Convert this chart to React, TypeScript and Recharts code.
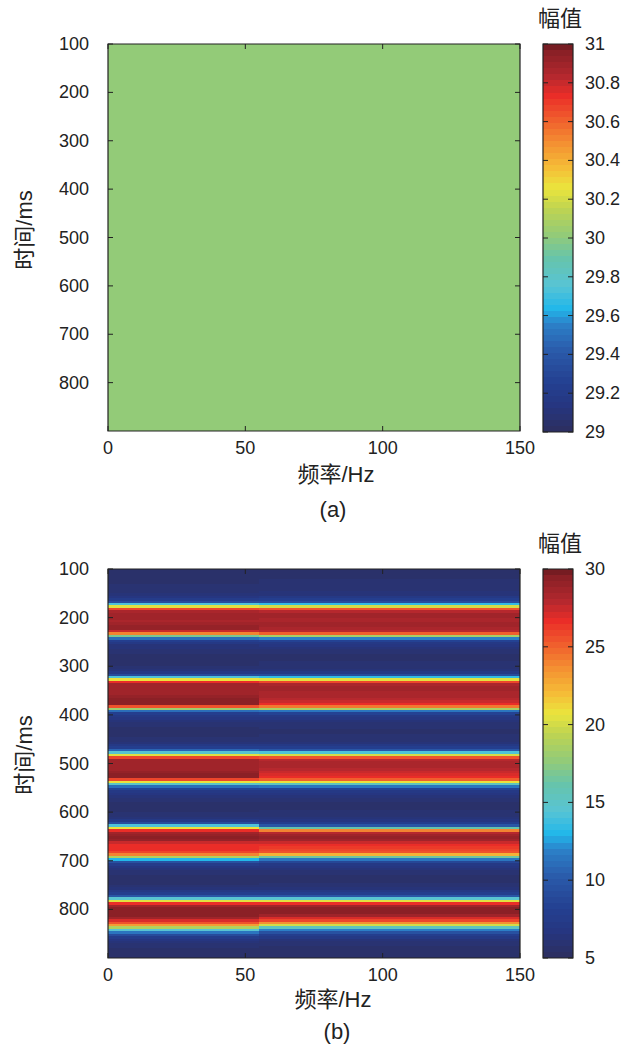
import React from 'react';
import { ComposedChart, XAxis, YAxis, ReferenceArea, Scatter } from 'recharts';

// ---------- shared text style ----------
const FONT = '"Liberation Sans", Arial, "Noto Sans CJK SC", sans-serif';
const INK = '#222';
const TICK_LEN = 5;

// ---------- axes ----------
const freqDomain: [number, number] = [0, 150];
const freqTicks = [0, 50, 100, 150];
const timeDomain: [number, number] = [100, 900];
const timeTicks = [100, 200, 300, 400, 500, 600, 700, 800];

// ---------- panel (a): constant amplitude ----------
const amplitudeA = 30;
const colorRangeA: [number, number] = [29, 31];
const colorTicksA = [29, 29.2, 29.4, 29.6, 29.8, 30, 30.2, 30.4, 30.6, 30.8, 31];

// ---------- panel (b): amplitude per 5 ms row, two frequency segments ----------
const colorRangeB: [number, number] = [5, 30];
const colorTicksB = [5, 10, 15, 20, 25, 30];
const splitFreq = 55;
const rowStart = 100;
const rowStep = 5;

// 0–55 Hz, rows 100 ms … 895 ms
const amplitudeBLow = [
  5.5, 5.5, 5.5, 5.6, 5.6, 5.7, 5.8, 5.8, 6.0, 6.1,
  6.4, 6.9, 7.6, 9.0, 14.0, 20.5, 26.0, 28.3, 28.6, 28.6,
  28.5, 28.4, 28.6, 28.9, 29.2, 27.5, 24.0, 17.0, 11.0, 8.0,
  7.0, 6.5, 6.2, 6.0, 5.8, 5.7, 5.6, 5.6, 5.6, 5.7,
  5.8, 6.2, 7.0, 9.0, 14.0, 21.0, 26.5, 28.5, 28.6, 28.6,
  28.7, 28.8, 29.0, 29.3, 29.6, 29.4, 25.5, 18.0, 11.0, 8.0,
  7.2, 6.7, 6.3, 6.0, 5.8, 5.7, 5.6, 5.6, 5.7, 5.8,
  6.0, 6.4, 7.0, 8.0, 10.5, 14.5, 20.5, 26.0, 28.5, 28.7,
  28.6, 28.6, 28.8, 29.2, 29.5, 29.4, 26.0, 21.0, 15.0, 11.0,
  8.5, 7.2, 6.6, 6.2, 6.0, 5.8, 5.7, 5.6, 5.6, 5.7,
  5.8, 6.0, 6.4, 7.0, 9.0, 14.0, 21.0, 26.5, 28.5, 29.2,
  29.3, 29.0, 27.5, 26.5, 26.5, 26.5, 26.0, 24.0, 19.0, 13.0,
  9.5, 7.5, 6.8, 6.3, 6.0, 5.8, 5.7, 5.6, 5.6, 5.7,
  5.9, 6.3, 7.0, 8.0, 10.0, 14.5, 20.5, 26.5, 28.5, 29.5,
  29.6, 29.6, 29.3, 28.5, 27.0, 25.5, 23.0, 19.0, 14.5, 11.5,
  9.0, 7.5, 6.8, 6.3, 6.0, 5.8, 5.7, 5.6, 5.5, 5.5,
];

// 55–150 Hz, rows 100 ms … 895 ms
const amplitudeBHigh = [
  5.5, 5.5, 5.6, 5.6, 5.8, 5.8, 5.9, 6.0, 6.1, 6.2,
  6.5, 7.0, 7.8, 9.0, 13.5, 20.0, 25.5, 28.0, 28.5, 28.5,
  28.4, 28.4, 28.5, 28.5, 28.3, 27.8, 25.0, 18.5, 12.0, 8.5,
  7.2, 6.6, 6.2, 6.0, 5.8, 5.7, 5.7, 5.7, 5.8, 5.8,
  5.9, 6.3, 7.0, 9.0, 13.5, 20.5, 26.0, 28.2, 28.5, 28.5,
  28.4, 28.3, 28.2, 28.0, 27.5, 26.5, 24.5, 18.5, 11.5, 8.3,
  7.3, 6.8, 6.4, 6.1, 5.9, 5.8, 5.7, 5.7, 5.8, 5.9,
  6.1, 6.5, 7.0, 8.0, 10.0, 14.0, 20.0, 25.5, 28.0, 28.4,
  28.4, 28.3, 28.0, 27.5, 27.0, 26.5, 25.0, 21.0, 15.5, 11.5,
  8.5, 7.2, 6.6, 6.2, 6.0, 5.8, 5.7, 5.7, 5.7, 5.8,
  5.8, 6.0, 6.3, 6.8, 7.8, 10.0, 16.0, 24.0, 28.0, 28.8,
  29.0, 28.6, 27.6, 26.6, 26.2, 26.0, 25.5, 22.5, 16.5, 11.5,
  8.8, 7.2, 6.6, 6.2, 6.0, 5.8, 5.7, 5.7, 5.7, 5.8,
  6.0, 6.3, 7.0, 8.0, 10.0, 14.5, 20.5, 26.5, 28.5, 29.3,
  29.5, 29.3, 28.6, 27.2, 25.8, 23.5, 20.0, 15.5, 12.0, 9.5,
  8.0, 7.0, 6.5, 6.1, 5.9, 5.7, 5.6, 5.6, 5.5, 5.5,
];

// ---------- colormap (jet-like, 64 levels) ----------
type RGB = [number, number, number];
const COLOR_STOPS: [number, RGB][] = [
  [0.0, [44, 47, 98]],
  [0.06, [38, 54, 128]],
  [0.12, [36, 64, 145]],
  [0.2, [42, 90, 170]],
  [0.27, [44, 128, 200]],
  [0.31, [33, 183, 234]],
  [0.37, [88, 196, 212]],
  [0.44, [103, 196, 170]],
  [0.5, [147, 203, 120]],
  [0.57, [192, 212, 80]],
  [0.62, [234, 229, 61]],
  [0.67, [245, 190, 55]],
  [0.73, [244, 148, 50]],
  [0.8, [240, 92, 45]],
  [0.86, [234, 45, 40]],
  [0.91, [178, 40, 46]],
  [1.0, [118, 28, 34]],
];
const LEVELS = 64;

function colorAt(t: number): string {
  const u = Math.min(1, Math.max(0, t));
  for (let i = 1; i < COLOR_STOPS.length; i++) {
    const [t1, c1] = COLOR_STOPS[i];
    if (u <= t1) {
      const [t0, c0] = COLOR_STOPS[i - 1];
      const k = (u - t0) / (t1 - t0);
      const c = c0.map((v, j) => Math.round(v + (c1[j] - v) * k));
      return `rgb(${c[0]},${c[1]},${c[2]})`;
    }
  }
  const last = COLOR_STOPS[COLOR_STOPS.length - 1][1];
  return `rgb(${last[0]},${last[1]},${last[2]})`;
}

function levelOf(v: number, [lo, hi]: [number, number]) {
  const t = (v - lo) / (hi - lo);
  return Math.min(LEVELS - 1, Math.max(0, Math.floor(t * LEVELS)));
}
function levelColor(k: number) {
  return colorAt(k === LEVELS - 1 ? 1 : k / LEVELS);
}
function valueColor(v: number, range: [number, number]) {
  return levelColor(levelOf(v, range));
}

// ---------- cell tables ----------
type Cell = { f0: number; f1: number; t0: number; t1: number; v: number };

const cellsA: Cell[] = [
  { f0: freqDomain[0], f1: freqDomain[1], t0: timeDomain[0], t1: timeDomain[1], v: amplitudeA },
];

const cellsB: Cell[] = amplitudeBLow.flatMap((v, i) => {
  const t0 = rowStart + i * rowStep;
  const t1 = t0 + rowStep;
  return [
    { f0: freqDomain[0], f1: splitFreq, t0, t1, v },
    { f0: splitFreq, f1: freqDomain[1], t0, t1, v: amplitudeBHigh[i] },
  ];
});

// ---------- tick renderers (ticks point into the box) ----------
const tickText = {
  fontFamily: FONT,
  fontSize: 18,
  fill: INK,
};

const BottomTick = (p: any) => (
  <g>
    <line x1={p.x} x2={p.x} y1={p.y} y2={p.y - TICK_LEN} stroke={INK} strokeWidth={1} />
    <text x={p.x} y={p.y + 17} textAnchor="middle" dominantBaseline="central" {...tickText}>
      {p.payload.value}
    </text>
  </g>
);
const TopTick = (p: any) => (
  <line x1={p.x} x2={p.x} y1={p.y} y2={p.y + TICK_LEN} stroke={INK} strokeWidth={1} />
);
const LeftTick = (p: any) => (
  <g>
    <line x1={p.x} x2={p.x + TICK_LEN} y1={p.y} y2={p.y} stroke={INK} strokeWidth={1} />
    <text x={p.x - 19} y={p.y} textAnchor="end" dominantBaseline="central" {...tickText}>
      {p.payload.value}
    </text>
  </g>
);
const LeftTickBare = (p: any) => (
  <line x1={p.x} x2={p.x + TICK_LEN} y1={p.y} y2={p.y} stroke={INK} strokeWidth={1} />
);
const RightTickBare = (p: any) => (
  <line x1={p.x} x2={p.x - TICK_LEN} y1={p.y} y2={p.y} stroke={INK} strokeWidth={1} />
);
const RightTickLabel = (p: any) => (
  <g>
    <line x1={p.x} x2={p.x - TICK_LEN} y1={p.y} y2={p.y} stroke={INK} strokeWidth={1} />
    <text x={p.x + 12} y={p.y} textAnchor="start" dominantBaseline="central" {...tickText}>
      {p.payload.value}
    </text>
  </g>
);

const NoDot = () => null;

// solid, seam-free cell
const cellShape = (fill: string) => (p: any) => (
  <rect x={p.x} y={p.y} width={p.width} height={p.height} fill={fill} stroke="none" shapeRendering="crispEdges" />
);

// ---------- heatmap panel ----------
function Heatmap({ cells, range, top, bottomMargin }: {
  cells: Cell[]; range: [number, number]; top: number; bottomMargin: number;
}) {
  return (
    <div style={{ position: 'absolute', left: 0, top, width: 560, height: 480 }}>
      <ComposedChart width={560} height={480} data={cells} margin={{ top: 34, left: 48, right: 30, bottom: bottomMargin }}>
        {cells.map((c, i) => (
          <ReferenceArea key={i} xAxisId="bottom" yAxisId="left" x1={c.f0} x2={c.f1} y1={c.t0} y2={c.t1}
            ifOverflow="hidden" shape={cellShape(valueColor(c.v, range))} />
        ))}
        <ReferenceArea xAxisId="bottom" yAxisId="left" x1={freqDomain[0]} x2={freqDomain[1]} y1={timeDomain[0]} y2={timeDomain[1]}
          fill="none" fillOpacity={0} stroke={INK} strokeWidth={1.2} />
        <Scatter xAxisId="bottom" yAxisId="left" dataKey="t0" shape={NoDot} isAnimationActive={false} legendType="none" />
        <XAxis xAxisId="bottom" dataKey="f0" type="number" domain={freqDomain} ticks={freqTicks} allowDataOverflow
          height={30} axisLine={false} tickLine={false} tickSize={0} tickMargin={0} interval={0} tick={BottomTick} />
        <XAxis xAxisId="top" dataKey="f0" orientation="top" type="number" domain={freqDomain} ticks={freqTicks} allowDataOverflow
          height={10} axisLine={false} tickLine={false} tickSize={0} tickMargin={0} interval={0} tick={TopTick} />
        <YAxis yAxisId="left" dataKey="t0" type="number" domain={timeDomain} ticks={timeTicks} reversed allowDataOverflow
          width={60} axisLine={false} tickLine={false} tickSize={0} tickMargin={0} interval={0} tick={LeftTick} />
        <YAxis yAxisId="right" dataKey="t0" orientation="right" type="number" domain={timeDomain} ticks={timeTicks} reversed allowDataOverflow
          width={10} axisLine={false} tickLine={false} tickSize={0} tickMargin={0} interval={0} tick={RightTickBare} />
      </ComposedChart>
    </div>
  );
}

// ---------- colour bar ----------
function ColorBar({ range, ticks, top, bottomMargin }: {
  range: [number, number]; ticks: number[]; top: number; bottomMargin: number;
}) {
  const [lo, hi] = range;
  const step = (hi - lo) / LEVELS;
  const levels = Array.from({ length: LEVELS }, (_, k) => ({ k, x: 0.5, y0: lo + k * step, y1: lo + (k + 1) * step }));
  return (
    <div style={{ position: 'absolute', left: 500, top, width: 137, height: 480 }}>
      <ComposedChart width={137} height={480} data={levels} margin={{ top: 44, left: 38, right: 14, bottom: bottomMargin }}>
        {levels.map((l) => (
          <ReferenceArea key={l.k} xAxisId="x" yAxisId="left" x1={0} x2={1} y1={l.y0} y2={l.y1}
            shape={cellShape(levelColor(l.k))} />
        ))}
        <ReferenceArea xAxisId="x" yAxisId="left" x1={0} x2={1} y1={lo} y2={hi}
          fill="none" fillOpacity={0} stroke={INK} strokeWidth={1.2} />
        <Scatter xAxisId="x" yAxisId="left" dataKey="y0" shape={NoDot} isAnimationActive={false} legendType="none" />
        <XAxis xAxisId="x" dataKey="x" type="number" domain={[0, 1]} hide allowDataOverflow />
        <YAxis yAxisId="left" dataKey="y0" type="number" domain={range} ticks={ticks} allowDataOverflow
          width={5} axisLine={false} tickLine={false} tickSize={0} tickMargin={0} interval={0} tick={LeftTickBare} />
        <YAxis yAxisId="right" dataKey="y0" orientation="right" type="number" domain={range} ticks={ticks} allowDataOverflow
          width={50} axisLine={false} tickLine={false} tickSize={0} tickMargin={0} interval={0} tick={RightTickLabel} />
      </ComposedChart>
    </div>
  );
}

// ---------- free text ----------
function Caption({ x, y, text, rotate = 0 }: { x: number; y: number; text: string; rotate?: number }) {
  return (
    <div style={{
      position: 'absolute', left: x, top: y, transform: `translate(-50%, -50%) rotate(${rotate}deg)`,
      fontFamily: FONT, fontSize: 22, color: INK, whiteSpace: 'nowrap', lineHeight: 1,
    }}>{text}</div>
  );
}

function Panel({ offset, cells, range, ticks, tag, tagX, tagY, xLabelX, xLabelY, bottomMargin, barBottomMargin }: {
  offset: number; cells: Cell[]; range: [number, number]; ticks: number[]; tag: string;
  tagX: number; tagY: number; xLabelX: number; xLabelY: number;
  bottomMargin: number; barBottomMargin: number;
}) {
  return (
    <>
      <Heatmap cells={cells} range={range} top={offset} bottomMargin={bottomMargin} />
      <ColorBar range={range} ticks={ticks} top={offset} bottomMargin={barBottomMargin} />
      <Caption x={560} y={offset + 19} text="幅值" />
      <Caption x={25} y={offset + 230} text="时间/ms" rotate={-90} />
      <Caption x={xLabelX} y={xLabelY} text="频率/Hz" />
      <Caption x={tagX} y={tagY} text={tag} />
    </>
  );
}

export default function App() {
  return (
    <div style={{ position: 'absolute', left: 0, top: 0, width: 637, height: 1047, background: '#fff', overflow: 'hidden' }}>
      <Panel offset={0} cells={cellsA} range={colorRangeA} ticks={colorTicksA} tag="(a)"
        tagX={333} tagY={510} xLabelX={336} xLabelY={475} bottomMargin={19} barBottomMargin={48} />
      <Panel offset={525} cells={cellsB} range={colorRangeB} ticks={colorTicksB} tag="(b)"
        tagX={337} tagY={1032} xLabelX={333} xLabelY={1000} bottomMargin={17} barBottomMargin={47} />
    </div>
  );
}
